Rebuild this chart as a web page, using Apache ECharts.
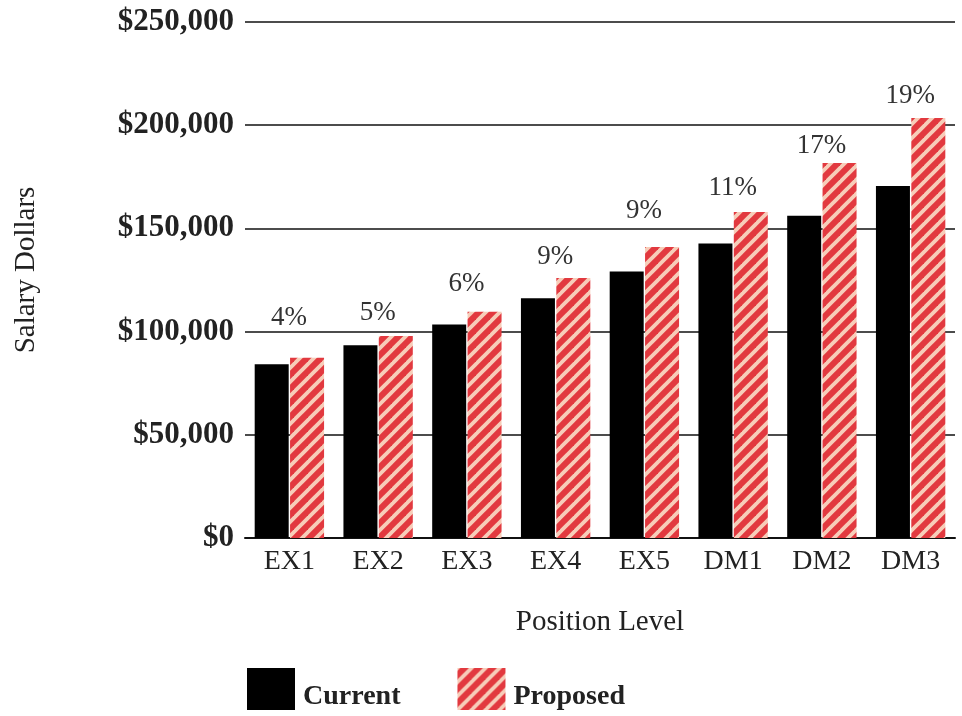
<!DOCTYPE html>
<html>
<head>
<meta charset="utf-8">
<script src="https://cdn.jsdelivr.net/npm/echarts@6/dist/echarts.min.js"></script>
<style>
  html, body { margin: 0; padding: 0; background: #fff; }
  #chart { width: 962px; height: 716px; }
</style>
</head>
<body>
<div id="chart"></div>
<script>
// Salary by position level: current vs proposed
const categories = ['EX1', 'EX2', 'EX3', 'EX4', 'EX5', 'DM1', 'DM2', 'DM3'];
const currentSalary = [84200, 93400, 103400, 116200, 129100, 142700, 156100, 170600];
const proposedSalary = [87300, 97900, 109600, 126000, 141000, 158000, 181700, 203500];
const increasePct = [4, 5, 6, 9, 9, 11, 17, 19];
const yTicks = { min: 0, max: 250000, interval: 50000 };

// extra lift (px) of each percentage label above its bar
const pctLift = [21, 5, 9, 3, 18, 5, -1, 4];

const FONT = '"Liberation Serif", "DejaVu Serif", serif';
const RED = '#e2393f';
const PINK = '#f7cdb9';

// diagonal stripe tile for the proposed bars
function stripeTile() {
  const T = 14;
  const c = document.createElement('canvas');
  c.width = T; c.height = T;
  const ctx = c.getContext('2d');
  ctx.fillStyle = RED;
  ctx.fillRect(0, 0, T, T);
  ctx.strokeStyle = PINK;
  ctx.lineWidth = 3.8;
  for (const k of [0, T, 2 * T]) {
    ctx.beginPath();
    ctx.moveTo(k + 4, -4);
    ctx.lineTo(k - T - 4, T + 4);
    ctx.stroke();
  }
  return c;
}
const stripes = { image: stripeTile(), repeat: 'repeat' };

const chart = echarts.init(document.getElementById('chart'), null, { renderer: 'canvas' });

chart.setOption({
  animation: false,
  backgroundColor: '#fff',
  textStyle: { fontFamily: FONT },
  grid: { left: 245, right: 7, top: 22, bottom: 178, containLabel: false },
  legend: {
    left: 242,
    top: 663,
    itemWidth: 48,
    itemHeight: 42,
    itemGap: 57,
    icon: 'rect',
    formatter: name => '{t|' + name + '}',
    textStyle: {
      fontFamily: FONT, fontSize: 28, fontWeight: 'bold', color: '#222',
      rich: {
        t: {
          fontFamily: FONT, fontSize: 28, fontWeight: 'bold', color: '#222',
          padding: [15, 0, 0, 3]
        }
      }
    },
    data: ['Current', 'Proposed']
  },
  xAxis: {
    type: 'category',
    data: categories,
    name: 'Position Level',
    nameLocation: 'middle',
    nameGap: 70,
    nameTextStyle: { fontFamily: FONT, fontSize: 29, color: '#222' },
    axisLine: { lineStyle: { color: '#111', width: 2 } },
    axisTick: { inside: true, length: 11, lineStyle: { color: '#111', width: 1.5 } },
    axisLabel: { fontFamily: FONT, fontSize: 28, color: '#222', margin: 10 }
  },
  yAxis: {
    type: 'value',
    min: yTicks.min,
    max: yTicks.max,
    interval: yTicks.interval,
    name: 'Salary Dollars',
    nameLocation: 'middle',
    nameRotate: 90,
    nameGap: 204,
    nameTextStyle: { fontFamily: FONT, fontSize: 29, color: '#222', padding: [0, 0, 0, 20] },
    axisLine: { show: false },
    axisTick: { show: false },
    splitLine: { lineStyle: { color: '#111', width: 1.5 } },
    axisLabel: {
      fontFamily: FONT, fontSize: 31, fontWeight: 'bold', color: '#222', margin: 11,
      formatter: v => '$' + v.toLocaleString('en-US')
    }
  },
  series: [
    {
      name: 'Current',
      type: 'bar',
      data: currentSalary,
      barWidth: 34,
      barGap: '4%',
      itemStyle: { color: '#000' }
    },
    {
      name: 'Proposed',
      type: 'bar',
      data: proposedSalary.map((v, i) => ({
        value: v,
        label: { offset: [-18, -pctLift[i]] }
      })),
      barWidth: 34,
      itemStyle: { color: stripes },
      label: {
        show: true,
        position: 'top',
        distance: 5,
        fontFamily: FONT,
        fontSize: 27,
        color: '#333',
        formatter: p => increasePct[p.dataIndex] + '%'
      }
    }
  ]
});
</script>
</body>
</html>
